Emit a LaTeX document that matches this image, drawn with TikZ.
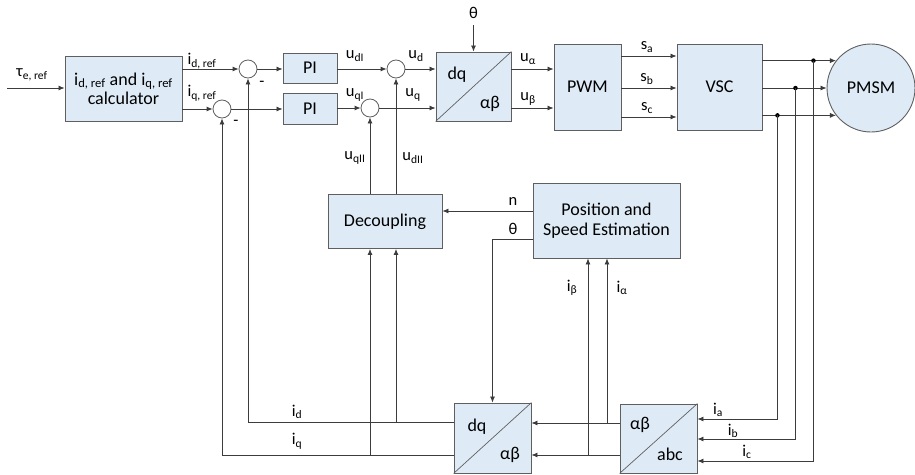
\documentclass[tikz,border=0pt]{standalone}
\usepackage{fontspec}
\setmainfont{Carlito}
\usetikzlibrary{arrows.meta}
\definecolor{boxfill}{RGB}{222,235,247}
\definecolor{boxline}{RGB}{95,95,95}
\definecolor{wirec}{RGB}{60,60,60}
\newcommand{\sbx}[1]{\textsubscript{#1}}
\begin{document}
\begin{tikzpicture}[x=1pt,y=-1pt,
  font=\fontsize{18}{21}\selectfont,
  blk/.style={draw=boxline, fill=boxfill, line width=0.9pt, inner sep=0pt, align=center},
  sumc/.style={circle, draw=boxline, fill=white, line width=0.8pt, minimum size=18pt, inner sep=0pt},
  wire/.style={draw=wirec, line width=0.8pt},
  arr/.style={wire, -{Latex[length=6pt,width=5pt]}},
  lbl/.style={font=\fontsize{16.5}{18}\selectfont, inner sep=0pt},
  dot/.style={circle, fill=black, inner sep=0pt, minimum size=4.5pt}]
\useasboundingbox (0,0) rectangle (915,474);

% blocks
\node[blk, minimum width=117pt, minimum height=65pt] (calc) at (123.5,88.5) {i\sbx{d, ref} and i\sbx{q, ref}\\[-2pt]calculator};
\node[blk, minimum width=54pt, minimum height=30pt] (PI1) at (310,68) {PI};
\node[blk, minimum width=54pt, minimum height=31pt] (PI2) at (310,108.5) {PI};
\node[blk, minimum width=75pt, minimum height=69pt] (dq1) at (473.5,86.5) {};
\node[blk, minimum width=67pt, minimum height=86pt] (PWM) at (587.5,87) {PWM};
\node[blk, minimum width=85pt, minimum height=86pt] (VSC) at (719.5,87) {VSC};
\node[blk, circle, minimum size=88pt] (PMSM) at (871,88) {PMSM};
\node[blk, minimum width=114pt, minimum height=54pt] (Dec) at (385,221.5) {Decoupling};
\node[blk, minimum width=147pt, minimum height=75pt] (PE) at (606.5,220.5) {Position and\\[-1pt]Speed Estimation};
\node[blk, minimum width=77pt, minimum height=70pt] (dq2) at (492.5,438) {};
\node[blk, minimum width=77pt, minimum height=69pt] (abc) at (658.5,438.5) {};

% diagonals and labels inside converters
\draw[boxline, line width=0.7pt] (dq1.south west) -- (dq1.north east);
\draw[boxline, line width=0.7pt] (dq2.south west) -- (dq2.north east);
\draw[boxline, line width=0.7pt] (abc.south west) -- (abc.north east);
\node (dq1a) at (457,75) {dq};
\node (dq1b) at (490,104) {αβ};
\node (dq2a) at (477,427) {dq};
\node (dq2b) at (510,455) {αβ};
\node (abca) at (640,425) {αβ};
\node (abcb) at (670,454) {abc};

% summing junctions
\node[sumc] (S1) at (248,69) {};
\node[sumc] (S2) at (222,109) {};
\node[sumc] (S3) at (396,69) {};
\node[sumc] (S4) at (370,108) {};

% forward path
\coordinate (tin) at (7,88);
\draw[arr] (tin) -- (tin -| calc.west);
\draw[arr] (S1 -| calc.east) -- (S1);
\draw[arr] (S2 -| calc.east) -- (S2);
\draw[arr] (S1) -- (S1 -| PI1.west);
\draw[arr] (S2) -- (S2 -| PI2.west);
\draw[arr] (S3 -| PI1.east) -- (S3);
\draw[arr] (S4 -| PI2.east) -- (S4);
\draw[arr] (S3) -- (S3 -| dq1.west);
\draw[arr] (S4) -- (S4 -| dq1.west);
\coordinate (thin) at (473.5,25);
\draw[arr] (thin) -- (thin |- dq1.north);
\draw[arr] (dq1.east |- S3) -- (S3 -| PWM.west);
\draw[arr] (dq1.east |- S4) -- (S4 -| PWM.west);
\draw[arr] ([yshift=31pt]PWM.east) -- ([yshift=31pt]VSC.west);
\draw[arr] ([yshift=-1pt]PWM.east) -- ([yshift=-1pt]VSC.west);
\draw[arr] ([yshift=-30pt]PWM.east) -- ([yshift=-30pt]VSC.west);
\draw[arr] (VSC.east |- PMSM.142) -- (PMSM.142);
\draw[arr] (VSC.east |- PMSM.180) -- (PMSM.180);
\draw[arr] (VSC.east |- PMSM.218) -- (PMSM.218);

% current measurements
\node[dot] (ja) at (VSC.east |- PMSM.142) [xshift=51pt] {};
\node[dot] (jb) at (VSC.east |- PMSM.180) [xshift=33pt] {};
\node[dot] (jc) at (VSC.east |- PMSM.218) [xshift=15pt] {};
\draw[arr] (jc.center) |- ([yshift=19.5pt]abc.east);
\draw[arr] (jb.center) |- ([yshift=-0.5pt]abc.east);
\draw[arr] (ja.center) |- ([yshift=-22.5pt]abc.east);

% alpha-beta currents
\draw[arr] ([yshift=15.5pt]abc.west) -- ([yshift=15.5pt]abc.west -| dq2.east);
\draw[arr] ([yshift=-16.5pt]abc.west) -- ([yshift=-16.5pt]abc.west -| dq2.east);
\coordinate (jal) at (607,423);
\coordinate (jbe) at (588,455);
\draw[arr] (jal) -- (jal |- PE.south);
\draw[arr] (jbe) -- (jbe |- PE.south);

% estimator outputs
\draw[arr] ([yshift=9.5pt]PE.west) -- ([yshift=9.5pt]PE.west -| Dec.east);
\draw[arr] ([yshift=-18.5pt]PE.west) -| (dq2.north);

% dq currents
\draw[arr] ([yshift=15.5pt]dq2.west) -| (S1.south);
\draw[arr] ([yshift=-17pt]dq2.west) -| (S2.south);
\coordinate (jid) at (396,422.5);
\coordinate (jiq) at (370,455);
\draw[arr] (jid) -- (jid |- Dec.south);
\draw[arr] (jiq) -- (jiq |- Dec.south);

% decoupling outputs
\draw[arr] (S4 |- Dec.north) -- (S4.south);
\draw[arr] (S3 |- Dec.north) -- (S3.south);

% labels
\node[lbl] (ltau) at (32,75) {τ\sbx{e, ref}};
\node[lbl] (lidr) at (202,61) {i\sbx{d, ref}};
\node[lbl] (liqr) at (202,93) {i\sbx{q, ref}};
\node[lbl] (lm1) at (262,84) {-};
\node[lbl] (lm2) at (236,123) {-};
\node[lbl] (ludi) at (355,56) {u\sbx{dI}};
\node[lbl] (luqi) at (355,95) {u\sbx{qI}};
\node[lbl] (lud) at (416,56) {u\sbx{d}};
\node[lbl] (luq) at (413,95) {u\sbx{q}};
\node[lbl] (lth) at (473.5,13) {θ};
\node[lbl] (lua) at (528,59) {u\sbx{α}};
\node[lbl] (lub) at (528,99) {u\sbx{β}};
\node[lbl] (lsa) at (647,47) {s\sbx{a}};
\node[lbl] (lsb) at (647,79) {s\sbx{b}};
\node[lbl] (lsc) at (647,108) {s\sbx{c}};
\node[lbl] (luqii) at (355,158) {u\sbx{qII}};
\node[lbl] (ludii) at (413,158) {u\sbx{dII}};
\node[lbl] (ln) at (513,201) {n};
\node[lbl] (lth2) at (513,229) {θ};
\node[lbl] (lib) at (572,288) {i\sbx{β}};
\node[lbl] (lia) at (622,288) {i\sbx{α}};
\node[lbl] (lid) at (297,412) {i\sbx{d}};
\node[lbl] (liq) at (297,441) {i\sbx{q}};
\node[lbl] (lia2) at (718,410) {i\sbx{a}};
\node[lbl] (lib2) at (733,431) {i\sbx{b}};
\node[lbl] (lic2) at (747,452) {i\sbx{c}};
\end{tikzpicture}
\end{document}
